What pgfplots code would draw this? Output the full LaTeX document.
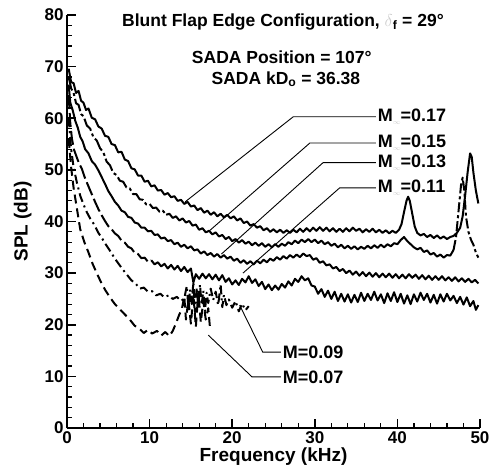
\documentclass[border=0pt]{standalone}
\usepackage{pgfplots}
\pgfplotsset{compat=1.18}
\usepackage{fontspec}
\setmainfont{Liberation Sans}

\newcommand{\Minf}{M\textcolor{gray!40}{\raisebox{-0.35ex}{\scriptsize$\infty$}}}

\begin{document}
\begin{tikzpicture}
\useasboundingbox (0,0) rectangle (489bp,466bp);
\begin{axis}[
  at={(67bp,38bp)}, anchor=south west,
  scale only axis, width=413bp, height=413bp,
  xmin=0, xmax=50, ymin=0, ymax=80,
  axis x line*=bottom, axis y line*=left,
  axis line style={line width=2.2pt, -},
  xtick={0,10,...,50}, ytick={0,10,...,80},
  minor tick num=4,
  tick align=inside,
  major tick length=9bp, minor tick length=5bp,
  major tick style={black, line width=1.6pt},
  minor tick style={black, line width=1.2pt},
  tick label style={font=\fontsize{17bp}{17bp}\selectfont\bfseries},
  /pgf/number format/assume math mode=true,
  xlabel={Frequency (kHz)}, ylabel={SPL (dB)},
  label style={font=\fontsize{19bp}{19bp}\selectfont\bfseries},
  xlabel style={at={(axis description cs:0.5,-0.07)}, anchor=center},
  ylabel style={at={(axis description cs:-0.107,0.5)}, anchor=center},
  clip=false,
  cycle list={{black}},
  every axis plot/.append style={black, line width=2bp, line join=round, no markers},
]

% M = 0.17, solid
\addplot[black] coordinates {
(0.2,69.6) (0.5,67.0) (0.8,66.8) (1.1,64.9) (1.4,65.3) (1.7,63.4) (2.0,63.0) (2.3,61.6) (2.6,61.9)
(3.0,60.1) (3.4,59.8) (3.8,58.4) (4.2,58.0) (4.6,56.6) (5.0,56.4) (5.4,55.0) (5.8,54.8) (6.2,53.4)
(6.6,53.5) (7.0,52.0) (7.4,51.7) (7.8,50.3) (8.2,50.1) (8.6,48.9) (9.0,48.9) (9.4,47.7) (9.8,47.9)
(10.2,46.8) (10.6,47.0) (11.0,46.0) (11.4,46.1) (11.8,45.2) (12.2,45.5) (12.6,44.7) (13.0,44.9)
(13.4,44.0) (13.8,44.2) (14.2,43.4) (14.6,43.8) (15.0,42.9) (15.4,43.1) (15.8,42.2) (16.2,42.6)
(16.6,41.7) (17.0,42.1) (17.4,41.3) (17.8,41.8) (18.2,41.0) (18.6,41.5) (19.0,40.8) (19.4,41.3)
(19.8,40.6) (20.2,41.0) (20.6,40.2) (21.0,40.6) (21.4,39.7) (21.8,40.0) (22.2,39.2) (22.6,39.5)
(23.0,38.8) (23.4,39.1) (23.8,38.3) (24.2,38.7) (24.6,38.0) (25.0,38.5) (25.4,37.9) (25.8,38.4)
(26.2,37.8) (26.6,38.3) (27.0,37.8) (27.4,38.4) (27.8,37.9) (28.2,38.6) (28.6,38.0) (29.0,38.7)
(29.4,38.1) (29.8,38.8) (30.2,38.2) (30.6,38.9) (31.0,38.2) (31.4,38.8) (31.8,38.1) (32.2,38.7)
(32.6,38.0) (33.0,38.6) (33.4,38.0) (33.8,38.7) (34.2,38.1) (34.6,38.8) (35.0,38.2) (35.4,38.6)
(35.8,37.9) (36.2,38.5) (36.6,38.0) (37.0,38.6) (37.4,37.9) (37.8,38.4) (38.2,37.8) (38.6,38.3)
(39.0,37.7) (39.4,38.2) (39.8,37.8) (40.2,38.4) (40.5,39.5) (40.8,41.8) (41.1,44.0) (41.3,44.8)
(41.5,44.0) (41.8,41.5) (42.1,39.0) (42.4,37.8) (42.8,37.3) (43.2,37.6) (43.6,37.0) (44.0,37.4)
(44.4,36.8) (44.8,37.3) (45.2,36.7) (45.6,37.1) (46.0,36.6) (46.4,37.0) (46.8,37.2) (47.2,37.8)
(47.6,38.8) (47.9,41.0) (48.2,45.0) (48.5,49.5) (48.8,53.2) (49.0,52.5) (49.2,49.5) (49.5,46.0)
(49.8,43.5)
};

% M = 0.15, dash-dot at low frequency, then the dense noisy part
\addplot[black, dash pattern=on 14bp off 3bp on 3bp off 3bp] coordinates {
(0.2,68.0) (0.5,65.8) (0.8,64.9) (1.1,62.9) (1.4,62.6) (1.7,60.8) (2.0,60.4) (2.4,58.6) (2.8,58.0)
(3.2,56.3) (3.6,55.7) (4.0,54.2) (4.4,53.4) (4.8,51.6) (5.2,50.9) (5.6,49.4) (6.0,49.0) (6.4,47.9)
(6.8,47.7) (7.2,46.6) (7.6,46.4) (8.0,45.3) (8.4,45.3) (8.8,44.3) (9.2,44.2) (9.6,43.3) (10.0,43.4)
(10.4,42.6) (10.8,42.7) (11.2,41.9) (11.6,42.1) (12.0,41.3)
};
\addplot[black] coordinates {
(12.0,41.3) (12.4,41.5) (12.8,40.7) (13.2,41.0)
(13.6,40.2) (14.0,40.6) (14.4,39.8) (14.8,40.1) (15.2,39.2) (15.6,39.4) (16.0,38.4) (16.4,38.7)
(16.8,37.9) (17.2,38.2) (17.6,37.5) (18.0,37.9) (18.4,37.1) (18.8,37.4) (19.2,36.6) (19.6,37.0)
(20.0,36.2) (20.4,36.6) (20.8,35.9) (21.2,36.4) (21.6,35.7) (22.0,36.1) (22.4,35.4) (22.8,35.9)
(23.2,35.3) (23.6,35.8) (24.0,35.1) (24.4,35.6) (24.8,35.0) (25.2,35.6) (25.6,35.1) (26.0,35.7)
(26.4,35.3) (26.8,36.0) (27.2,35.6) (27.6,36.3) (28.0,35.8) (28.4,36.5) (28.8,36.0) (29.2,36.6)
(29.6,36.0) (30.0,36.5) (30.4,35.8) (30.8,36.3) (31.2,35.6) (31.6,36.0) (32.0,35.3) (32.4,35.7)
(32.8,35.0) (33.2,35.5) (33.6,34.8) (34.0,35.3) (34.4,34.7) (34.8,35.2) (35.2,34.6) (35.6,35.1)
(36.0,34.7) (36.4,35.3) (36.8,34.8) (37.2,35.4) (37.6,34.9) (38.0,35.5) (38.4,35.0) (38.8,35.6)
(39.2,35.2) (39.6,35.8) (40.0,35.6) (40.4,36.4) (40.8,37.0) (41.2,36.2) (41.6,35.6) (42.0,35.0)
(42.4,34.6) (42.8,34.9) (43.2,34.1) (43.6,34.4) (44.0,33.6) (44.4,33.9) (44.8,33.2) (45.2,33.6)
(45.6,33.0) (46.0,33.5) (46.4,33.4) (46.8,34.5)
};
\addplot[black, dash pattern=on 10bp off 3bp on 3bp off 3bp] coordinates {
(46.8,34.5) (47.1,37.0) (47.4,42.0) (47.7,47.0) (47.9,48.5)
(48.1,46.0) (48.3,41.0) (48.6,38.0) (48.9,36.5) (49.2,35.5) (49.5,34.0) (49.8,33.0)
};

% M = 0.13, solid
\addplot[black] coordinates {
(0.2,66.5) (0.4,63.0) (0.7,61.5) (1.0,59.5) (1.3,58.2) (1.6,56.4) (1.9,55.5) (2.2,54.0) (2.6,53.2)
(3.0,51.7) (3.4,51.0) (3.8,49.9) (4.2,48.6) (4.6,47.3) (5.0,45.9) (5.4,44.9) (5.8,43.8) (6.2,43.1)
(6.6,42.1) (7.0,41.8) (7.4,40.9) (7.8,40.7) (8.2,39.8) (8.6,39.6) (9.0,38.8) (9.4,38.8) (9.8,38.1)
(10.2,38.2) (10.6,37.4) (11.0,37.5) (11.4,36.7) (11.8,36.9) (12.2,36.2) (12.6,36.4) (13.0,35.6)
(13.4,35.9) (13.8,35.1) (14.2,35.5) (14.6,34.8) (15.0,35.2) (15.4,34.4) (15.8,34.6) (16.2,33.8)
(16.6,34.2) (17.0,33.5) (17.4,33.9) (17.8,33.2) (18.2,33.7) (18.6,33.0) (19.0,33.5) (19.4,32.8)
(19.8,33.2) (20.2,32.4) (20.6,32.8) (21.0,32.0) (21.4,32.5) (21.8,31.8) (22.2,32.3) (22.6,31.7)
(23.0,32.4) (23.4,31.9) (23.8,32.6) (24.2,32.1) (24.6,32.8) (25.0,32.4) (25.4,33.1) (25.8,32.6)
(26.2,33.3) (26.6,32.8) (27.0,33.5) (27.4,33.0) (27.8,33.6) (28.2,33.1) (28.6,33.8) (29.0,33.3)
(29.4,33.5) (29.8,32.6) (30.2,32.9) (30.6,32.0) (31.0,32.3) (31.4,31.5) (31.8,31.7) (32.2,30.9)
(32.6,31.2) (33.0,30.4) (33.4,30.8) (33.8,30.0) (34.2,30.5) (34.6,29.7) (35.0,30.3) (35.4,29.5)
(35.8,30.2) (36.2,29.4) (36.6,30.1) (37.0,29.3) (37.4,30.0) (37.8,29.2) (38.2,29.9) (38.6,29.2)
(39.0,29.9) (39.4,29.1) (39.8,29.8) (40.2,29.0) (40.6,29.7) (41.0,29.0) (41.4,29.8) (41.8,29.1)
(42.2,29.7) (42.6,28.9) (43.0,29.6) (43.4,28.8) (43.8,29.5) (44.2,28.7) (44.6,29.4) (45.0,28.7)
(45.4,29.4) (45.8,28.6) (46.2,29.2) (46.6,28.5) (47.0,29.2) (47.4,28.4) (47.8,29.0) (48.2,28.3)
(48.6,28.9) (49.0,28.2) (49.4,28.7) (49.8,28.0)
};

% M = 0.11, long dashes at low frequency, then the dense noisy part
\addplot[black, dash pattern=on 14bp off 4bp] coordinates {
(0.2,64.5) (0.4,59.0) (0.6,56.0) (0.85,53.9) (1.1,52.8) (1.4,51.5) (1.8,50.2) (2.2,48.3) (2.6,46.8)
(3.0,45.3) (3.4,43.8) (3.8,42.4) (4.2,41.2) (4.6,40.1) (5.0,39.1) (5.4,38.5) (5.8,37.7) (6.2,37.2)
(6.6,36.3) (7.0,35.9) (7.4,35.1) (7.8,34.8) (8.2,33.9) (8.6,33.7) (9.0,32.9) (9.4,33.0) (9.8,32.2)
(10.2,32.5)
};
\addplot[black] coordinates {
(10.2,32.5) (10.6,31.7) (11.0,32.1) (11.4,31.3) (11.8,31.8) (12.2,30.9) (12.6,31.6) (13.0,30.7)
(13.4,31.4) (13.8,30.4) (14.2,31.2) (14.6,30.2) (15.0,30.9) (15.3,28.2) (15.6,29.8) (16.0,28.9)
(16.4,29.9) (16.8,29.0) (17.2,29.8) (17.6,28.8) (18.0,29.7) (18.4,28.6) (18.8,29.6) (19.2,28.3)
(19.6,29.0) (20.0,27.8) (20.4,28.6) (20.8,27.7) (21.2,28.9) (21.6,28.2) (22.0,29.4) (22.4,28.1)
(22.8,28.8) (23.2,27.5) (23.6,28.3) (24.0,26.9) (24.4,27.8) (24.8,26.7) (25.2,27.6) (25.6,26.8)
(26.0,27.9) (26.4,27.2) (26.8,28.4) (27.2,27.6) (27.6,28.9) (28.0,28.3) (28.4,29.4) (28.8,28.6)
(29.2,29.0) (29.6,27.6) (30.0,27.4) (30.4,26.0) (30.8,26.9) (31.2,25.4) (31.6,26.6) (32.0,25.0)
(32.4,26.4) (32.8,24.6) (33.2,26.0) (33.6,24.5) (34.0,25.9) (34.4,24.3) (34.8,25.8) (35.2,24.4)
(35.6,26.2) (36.0,24.6) (36.4,26.0) (36.8,24.8) (37.2,26.4) (37.6,24.7) (38.0,25.9) (38.4,24.2)
(38.8,26.1) (39.2,24.6) (39.6,26.3) (40.0,24.4) (40.4,26.0) (40.8,24.1) (41.2,25.7) (41.6,24.0)
(42.0,25.9) (42.4,24.5) (42.8,26.2) (43.2,24.8) (43.6,26.0) (44.0,24.3) (44.4,25.8) (44.8,24.1)
(45.2,25.9) (45.6,24.5) (46.0,26.0) (46.4,24.7) (46.8,25.6) (47.2,24.2) (47.6,25.4) (48.0,23.9)
(48.4,25.3) (48.8,23.6) (49.2,24.6) (49.5,22.9) (49.8,23.8)
};

% M = 0.09, dash-dot
\addplot[black, dash pattern=on 9bp off 4bp on 2bp off 4bp] coordinates {
(0.2,60.0) (0.5,54.0) (0.8,50.5) (1.2,47.5) (1.6,45.0) (2.0,43.3) (2.4,41.8) (2.8,40.6) (3.3,39.4)
(3.8,37.8) (4.3,36.6) (4.8,35.3) (5.3,34.1) (5.8,32.8) (6.3,31.7) (6.8,30.6) (7.3,29.6) (7.8,28.6)
(8.3,28.0) (8.8,27.0) (9.3,27.2) (9.8,26.4) (10.3,26.5) (10.8,25.7) (11.3,26.0) (11.8,25.3)
(12.3,25.7) (12.8,25.0) (13.3,25.4) (13.8,24.6) (14.2,25.1) (14.5,27.5) (14.7,23.2) (14.9,26.8)
(15.1,24.0) (15.3,28.3) (15.5,22.4) (15.7,27.2) (15.9,23.3) (16.1,27.8) (16.3,23.8) (16.5,26.6)
(16.7,22.6) (16.9,26.2) (17.1,24.2) (17.4,27.0) (17.7,24.8) (18.0,26.4) (18.3,23.8) (18.6,27.8)
(18.8,23.4) (19.0,25.8) (19.3,23.8) (19.6,24.9) (20.0,23.3) (20.4,24.6) (20.8,22.6) (21.2,24.1)
(21.6,22.8) (22.0,23.6)
};

% M = 0.07, dashed
\addplot[black, dash pattern=on 9bp off 5bp] coordinates {
(0.2,56.0) (0.5,50.5) (0.8,46.5) (1.2,42.5) (1.6,38.5) (2.1,36.0) (2.6,34.0) (3.1,31.8) (3.6,30.0)
(4.1,28.3) (4.6,26.8) (5.2,25.3) (5.8,24.0) (6.4,23.0) (7.0,22.0) (7.6,21.0) (8.2,19.8) (8.8,19.2)
(9.3,18.4) (9.8,19.0) (10.3,18.3) (10.9,18.8) (11.4,17.9) (11.9,18.6) (12.4,17.8) (12.8,18.8)
(13.2,20.3) (13.6,22.0) (13.9,23.0) (14.2,25.5) (14.4,21.0) (14.7,24.8) (15.0,20.2) (15.3,25.8)
(15.6,19.6) (15.9,26.4) (16.2,20.5) (16.5,24.6) (16.8,21.0) (17.1,23.2) (17.3,19.6)
};

% leader lines
\draw[line width=0.9bp] (axis cs:14.3,43.8) -- (axis cs:27.4,60.3) -- (axis cs:37.4,60.3);
\draw[line width=0.9bp] (axis cs:17.1,38.0) -- (axis cs:29.4,55.2) -- (axis cs:37.4,55.2);
\draw[line width=0.9bp] (axis cs:18.7,33.7) -- (axis cs:31.0,51.4) -- (axis cs:37.4,51.4);
\draw[line width=0.9bp] (axis cs:21.3,30.0) -- (axis cs:33.0,46.5) -- (axis cs:37.4,46.5);
\draw[line width=0.9bp] (axis cs:20.9,23.8) -- (axis cs:23.7,14.7) -- (axis cs:25.9,14.7);
\draw[line width=0.9bp] (axis cs:17.1,18.0) -- (axis cs:22.4,9.9) -- (axis cs:25.9,9.9);

% series labels
\begin{scope}[every node/.style={font=\fontsize{18bp}{18bp}\selectfont\bfseries, anchor=west, inner sep=0pt}]
\node at (axis cs:37.6,60.3) {\Minf=0.17};
\node at (axis cs:37.6,55.2) {\Minf=0.15};
\node at (axis cs:37.6,51.4) {\Minf=0.13};
\node at (axis cs:37.6,46.5) {\Minf=0.11};
\node at (axis cs:26.1,14.7) {M=0.09};
\node at (axis cs:26.1,9.9) {M=0.07};
\end{scope}

% annotation block
\begin{scope}[every node/.style={font=\fontsize{17.5bp}{20bp}\selectfont\bfseries, anchor=center, inner sep=0pt}]
\node at (axis cs:26.15,78.7) {Blunt Flap Edge Configuration, \textcolor{gray!40}{$\delta$}\textsubscript{f} = 29°};
\node at (axis cs:26.0,71.9) {SADA Position = 107°};
\node at (axis cs:26.5,67.6) {SADA kD\textsubscript{o} = 36.38};
\end{scope}
\end{axis}
\end{tikzpicture}
\end{document}
